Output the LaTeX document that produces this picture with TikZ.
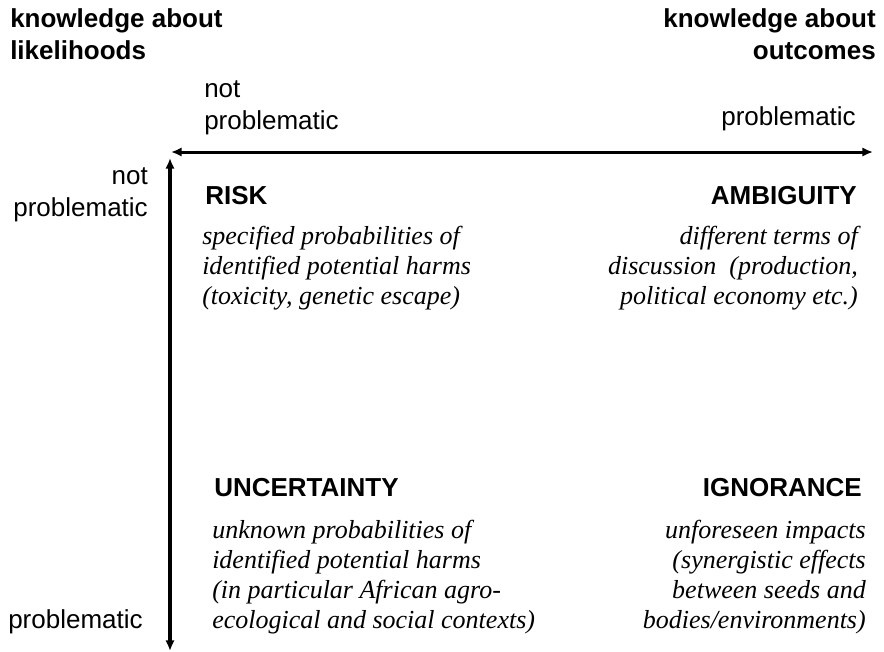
\documentclass[tikz,border=0pt]{standalone}
\usepackage{fontspec}
\setmainfont{Liberation Serif}
\setsansfont{Liberation Sans}
\usetikzlibrary{arrows.meta}

\begin{document}
\begin{tikzpicture}[x=0.75pt,y=-0.75pt,
  every node/.style={inner sep=0pt,font=\sffamily\fontsize{19.5}{24}\selectfont},
  heading/.style={font=\sffamily\bfseries\fontsize{19.5}{24}\selectfont},
  quadrant/.style={font=\sffamily\bfseries\fontsize{19.5}{24}\selectfont},
  example/.style={font=\rmfamily\itshape\fontsize{19.5}{22.5}\selectfont},
  axis/.style={line width=2.25pt,{Latex[length=8pt,width=7pt]}-{Latex[length=8pt,width=7pt]}}]
  \useasboundingbox (0,0) rectangle (884,651);
  \node[heading,anchor=north west,align=left] (klik) at (10,8) {knowledge about\\likelihoods};
  \node[heading,anchor=north east,align=right] (kout) at (876,8) {knowledge about\\outcomes};
  \node[anchor=north west,align=left] (colnot) at (204,80) {not\\problematic};
  \node[anchor=north east] (colprob) at (856,106) {problematic};
  \node[anchor=north east,align=right] (rownot) at (148,167) {not\\problematic};
  \node[anchor=north west] (rowprob) at (8,609) {problematic};
  \coordinate (hleft) at (171,152);
  \coordinate (hright) at (873,152);
  \coordinate (vtop) at (170,158);
  \coordinate (vbot) at (170,651);
  \draw[axis] (hleft) -- (hright);
  \draw[axis,line width=3.5pt] (vtop) -- (vbot);
  \node[quadrant,anchor=north west] (risk) at (205,186) {RISK};
  \node[example,anchor=north west,align=left] (risktxt) at (202,226)
    {specified probabilities of\\identified potential harms\\(toxicity, genetic escape)};
  \node[quadrant,anchor=north east] (amb) at (857,186) {AMBIGUITY};
  \node[example,anchor=north east,align=right] (ambtxt) at (858,226)
    {different terms of\\discussion~ (production,\\political economy etc.)};
  \node[quadrant,anchor=north west] (unc) at (214,478) {UNCERTAINTY};
  \node[example,anchor=north west,align=left] (unctxt) at (212,520)
    {unknown probabilities of\\identified potential harms\\(in particular African agro-\\ecological and social contexts)};
  \node[quadrant,anchor=north east] (ign) at (862,478) {IGNORANCE};
  \node[example,anchor=north east,align=right] (igntxt) at (866,520)
    {unforeseen impacts\\(synergistic effects\\between seeds and\\bodies/environments)};
\end{tikzpicture}
\end{document}
